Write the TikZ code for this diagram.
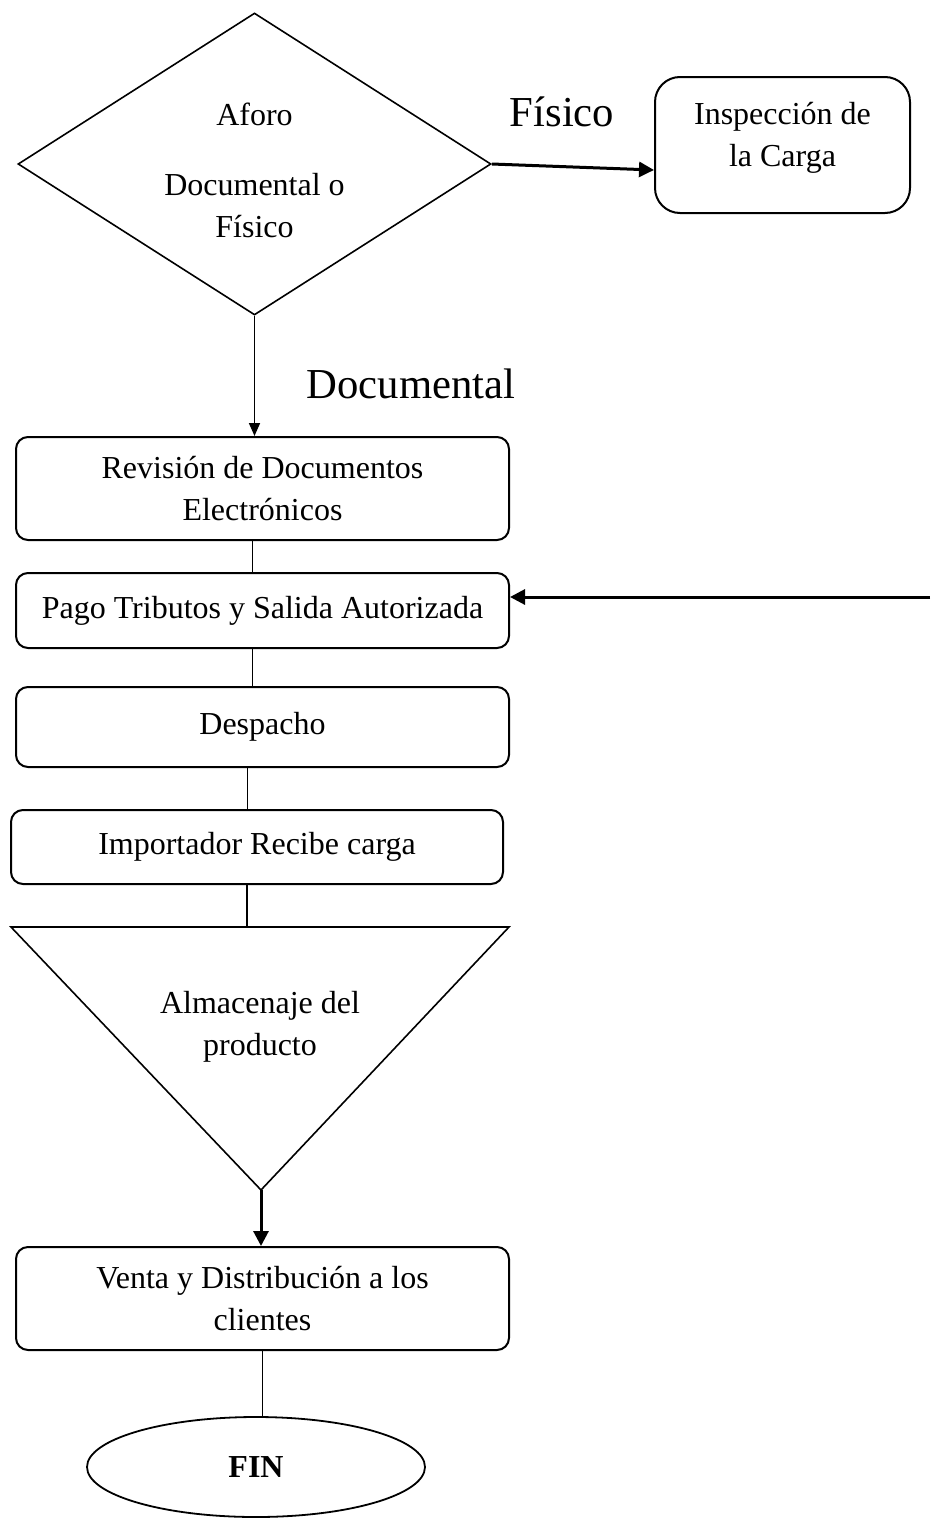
\documentclass[tikz,border=0pt]{standalone}
\usepackage{fontspec}
\setmainfont{Liberation Serif}
\usetikzlibrary{shapes.geometric,arrows.meta}

\begin{document}
\begin{tikzpicture}[x=1pt,y=-1pt,
    txt/.style={font=\fontsize{32}{42}\selectfont, align=center},
    caja/.style={txt, draw, line width=2pt, rounded corners=12pt, minimum width=493pt, inner sep=0pt},
    rombo/.style={txt, draw, line width=1.6pt, diamond, aspect=1.566, inner sep=0pt, minimum width=473pt, minimum height=302pt},
    lbl/.style={font=\fontsize{42.7}{50}\selectfont},
    arr/.style={-{Triangle[length=15pt,width=15pt]}, line width=3pt}]
  \useasboundingbox (0,0) rectangle (930,1518);

  % Aforo
  \node[rombo] (afo) at (254.5,164) {\rule{0pt}{36pt}Aforo\\[28pt]Documental o\\Físico};
  \node[caja, rounded corners=25pt, minimum width=255pt, minimum height=136pt, text depth=21pt] (insp) at (782.5,145) {Inspección de\\la Carga};
  \node[lbl] (lfis) at (562,112) {Físico};
  \node[lbl] (ldoc) at (411,384) {Documental};

  \draw[arr] (afo.east) -- ([yshift=-25pt]insp.west);

  % Kette
  \node[caja, minimum height=103pt] (rev) at (262.5,488.5) {Revisión de Documentos\\Electrónicos};
  \node[caja, minimum height=75pt] (pago) at (262.5,610.5) {Pago Tributos y Salida Autorizada};
  \node[caja, minimum height=80pt] (desp) at (262.5,727) {Despacho};
  \node[caja, minimum width=492pt, minimum height=74pt] (imp) at (257,847) {Importador Recibe carga};

  \draw[arr, -{Triangle[length=13pt,width=11pt]}, line width=1.6pt] (afo.south) -- (afo.south |- rev.north);
  \draw[line width=1.6pt] ([xshift=-10pt]rev.south) -- ([xshift=-10pt]pago.north);
  \draw[line width=1.6pt] ([xshift=-10pt]pago.south) -- ([xshift=-10pt]desp.north);
  \draw[line width=1.6pt] ([xshift=-15pt]desp.south) -- ([xshift=-15pt]desp.south |- imp.north);

  \coordinate (ext) at (930,597);
  \draw[arr] (ext) -- (ext -| pago.east);

  % Almacenaje
  \coordinate (almL) at (11,927);
  \coordinate (almR) at (509,927);
  \coordinate (almB) at (261,1190);
  \draw[line width=1.6pt, line join=miter] (almL) -- (almR) -- (almB) -- cycle;
  \node[txt] (alm) at (260,1027) {Almacenaje del\\producto};
  \draw[line width=1.6pt] ([xshift=-10pt]imp.south) -- ([xshift=-10pt]imp.south |- almL);

  \node[caja, minimum height=103pt] (venta) at (262.5,1298.5) {Venta y Distribución a los\\clientes};
  \node[txt, draw, line width=1.8pt, ellipse, inner sep=0pt, minimum width=338pt, minimum height=100pt] (fin) at (256,1467) {\bfseries FIN};

  \draw[arr] (almB) -- (almB |- venta.north);
  \draw[line width=1.6pt] (venta.south) -- (venta.south |- fin.north);
\end{tikzpicture}
\end{document}
